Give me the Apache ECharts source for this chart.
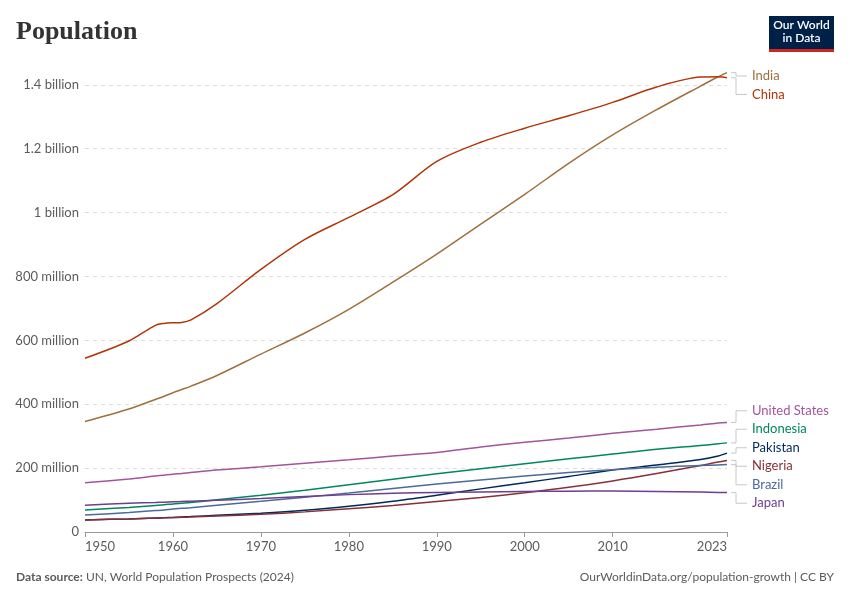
<!DOCTYPE html>
<html>
<head>
<meta charset="utf-8">
<script src="https://cdn.jsdelivr.net/npm/echarts@6/dist/echarts.min.js"></script>
<style>
  html, body { margin: 0; padding: 0; background: #fff; }
  #chart { width: 850px; height: 600px; }
</style>
</head>
<body>
<div id="chart"></div>
<script>
// population in millions, UN WPP 2024
var years = [1950, 1955, 1958, 1959, 1960, 1961, 1962, 1965, 1970, 1975, 1980, 1985, 1990, 1995, 2000, 2005, 2010, 2015, 2020, 2022, 2023];
var india = [346, 385, 415, 425, 436, 446, 456, 490, 557, 623, 697, 782, 870, 964, 1057, 1154, 1243, 1322, 1396, 1425, 1438];
var china = [544, 598, 647, 653, 655, 656, 663, 715, 822, 916, 985, 1056, 1160, 1220, 1264, 1303, 1345, 1393, 1424, 1425, 1422];
var unitedStates = [154, 166, 175, 178, 181, 183, 186, 194, 204, 215, 226, 238, 249, 266, 281, 294, 309, 322, 335, 341, 343];
var indonesia = [69, 77, 83, 85, 88, 90, 92, 101, 115, 131, 148, 165, 182, 198, 214, 229, 244, 259, 271, 276, 279];
var pakistan = [37.7, 41, 43.5, 44.5, 45.7, 47, 48.3, 52.5, 59, 68, 80.6, 96, 115, 135, 154, 174, 194, 210, 227, 238, 247];
var nigeria = [37.9, 41, 43.5, 44.3, 45.1, 46, 47, 50, 55.6, 63, 72.9, 83, 95.2, 108, 123, 140, 160, 183, 208, 219, 224];
var brazil = [53, 61, 67, 69, 72, 74, 76, 84, 96, 109, 122, 136, 150, 163, 175, 186, 195, 203, 208, 210, 211];
var japan = [84, 90, 92.5, 93.5, 94.5, 95.5, 96.5, 99.5, 104.5, 111.5, 117, 121, 123.7, 125.4, 126.8, 127.8, 128.1, 127.1, 125.2, 124, 123.3];

var countries = [
    { name: 'India', values: india, color: '#a0703c' },
    { name: 'China', values: china, color: '#b13507' },
    { name: 'United States', values: unitedStates, color: '#a2559c' },
    { name: 'Indonesia', values: indonesia, color: '#00875e' },
    { name: 'Pakistan', values: pakistan, color: '#00295b' },
    { name: 'Nigeria', values: nigeria, color: '#883039' },
    { name: 'Brazil', values: brazil, color: '#4c6a9c' },
    { name: 'Japan', values: japan, color: '#6d3e91' }
];
var xTicks = [1950, 1960, 1970, 1980, 1990, 2000, 2010, 2023];

function fmtPop (v) {
    if (v === 0) return '0';
    if (v >= 1e9) return (v / 1e9).toString() + ' billion';
    return (v / 1e6).toString() + ' million';
}

var chart = echarts.init(document.getElementById('chart'));
var font = 'Lato, "Noto Sans", sans-serif';

var option = {
    animation: false,
    textStyle: { fontFamily: font },
    grid: { left: 85, right: 123, top: 72, bottom: 68 },
    xAxis: {
        type: 'value',
        min: 1950,
        max: 2023,
        axisLine: { lineStyle: { color: '#999' } },
        axisTick: { customValues: xTicks, length: 5, lineStyle: { color: '#999' } },
        axisLabel: {
            customValues: xTicks,
            color: '#5b5b5b',
            fontSize: 13,
            margin: 8,
            alignMinLabel: 'left',
            alignMaxLabel: 'right',
            formatter: function (v) { return String(v); }
        },
        splitLine: { show: false }
    },
    yAxis: {
        type: 'value',
        min: 0,
        max: 1.44e9,
        interval: 2e8,
        axisLine: { show: false },
        axisTick: { show: false },
        axisLabel: { color: '#5b5b5b', fontSize: 13, margin: 6, formatter: fmtPop },
        splitLine: { showMaxLine: false, lineStyle: { color: '#dcdcdc', type: [4, 4] } }
    },
    series: countries.map(function (c) {
        return {
            name: c.name,
            type: 'line',
            showSymbol: false,
            smooth: 0.3,
            lineStyle: { width: 1.5, color: c.color },
            itemStyle: { color: c.color },
            data: years.map(function (y, i) { return [y, c.values[i] * 1e6]; })
        };
    }),
    graphic: [
        {
            type: 'text', left: 16, top: 19,
            style: { text: 'Population', font: 'bold 26px "Liberation Serif", "DejaVu Serif", serif', fill: '#333' }
        },
        {
            type: 'group', left: 769, top: 16,
            children: [
                { type: 'rect', shape: { x: 0, y: 0, width: 65, height: 36 }, style: { fill: '#002147' } },
                { type: 'rect', shape: { x: 0, y: 33, width: 65, height: 3 }, style: { fill: '#ce261e' } },
                {
                    type: 'text', x: 32.5, y: 16,
                    style: { text: 'Our World\nin Data', fill: '#fff', font: '600 12px ' + font, align: 'center', verticalAlign: 'middle', lineHeight: 13 }
                }
            ]
        },
        {
            type: 'text', left: 16, top: 571,
            style: {
                text: '{b|Data source:} UN, World Population Prospects (2024)',
                fill: '#5b5b5b', font: '12px ' + font,
                rich: { b: { fontWeight: 'bold', fill: '#5b5b5b', fontSize: 12, fontFamily: font } }
            }
        },
        {
            type: 'text', right: 16, top: 571,
            style: { text: 'OurWorldinData.org/population-growth | CC BY', fill: '#5b5b5b', font: '12px ' + font }
        }
    ]
};
chart.setOption(option);

// end labels with elbow connectors, spread apart so they don't overlap
var gap = 18.5;
var minY = 75;
var items = countries.map(function (c) {
    var last = c.values.length - 1;
    var p = chart.convertToPixel({ gridIndex: 0 }, [years[last], c.values[last] * 1e6]);
    return { c: c, x: p[0], t: p[1] };
}).sort(function (a, b) { return a.t - b.t; });

var clusters = items.map(function (it) { return { items: [it], y: it.t }; });
function place (cl) {
    var n = cl.items.length;
    var mean = cl.items.reduce(function (s, it) { return s + it.t; }, 0) / n;
    cl.y = Math.max(minY, mean - (n - 1) * gap / 2);
}
clusters.forEach(place);
var merged = true;
while (merged) {
    merged = false;
    for (var i = 1; i < clusters.length; i++) {
        var a = clusters[i - 1], b = clusters[i];
        if (a.y + a.items.length * gap > b.y) {
            a.items = a.items.concat(b.items);
            clusters.splice(i, 1);
            place(a);
            merged = true;
            break;
        }
    }
}

var extra = [];
clusters.forEach(function (cl) {
    cl.items.forEach(function (it, k) {
        var ly = cl.y + k * gap + 1;
        extra.push({
            type: 'polyline',
            shape: { points: [[it.x + 4, it.t], [736, it.t], [736, ly], [747, ly]] },
            style: { stroke: '#c8c8c8', lineWidth: 1, fill: null }
        });
        extra.push({
            type: 'text', x: 752, y: ly,
            style: { text: it.c.name, fill: it.c.color, font: '13px ' + font, verticalAlign: 'middle' }
        });
    });
});
chart.setOption({ graphic: option.graphic.concat(extra) }, { replaceMerge: ['graphic'] });

window.addEventListener('resize', function () {
    chart.resize();
});
</script>
</body>
</html>
